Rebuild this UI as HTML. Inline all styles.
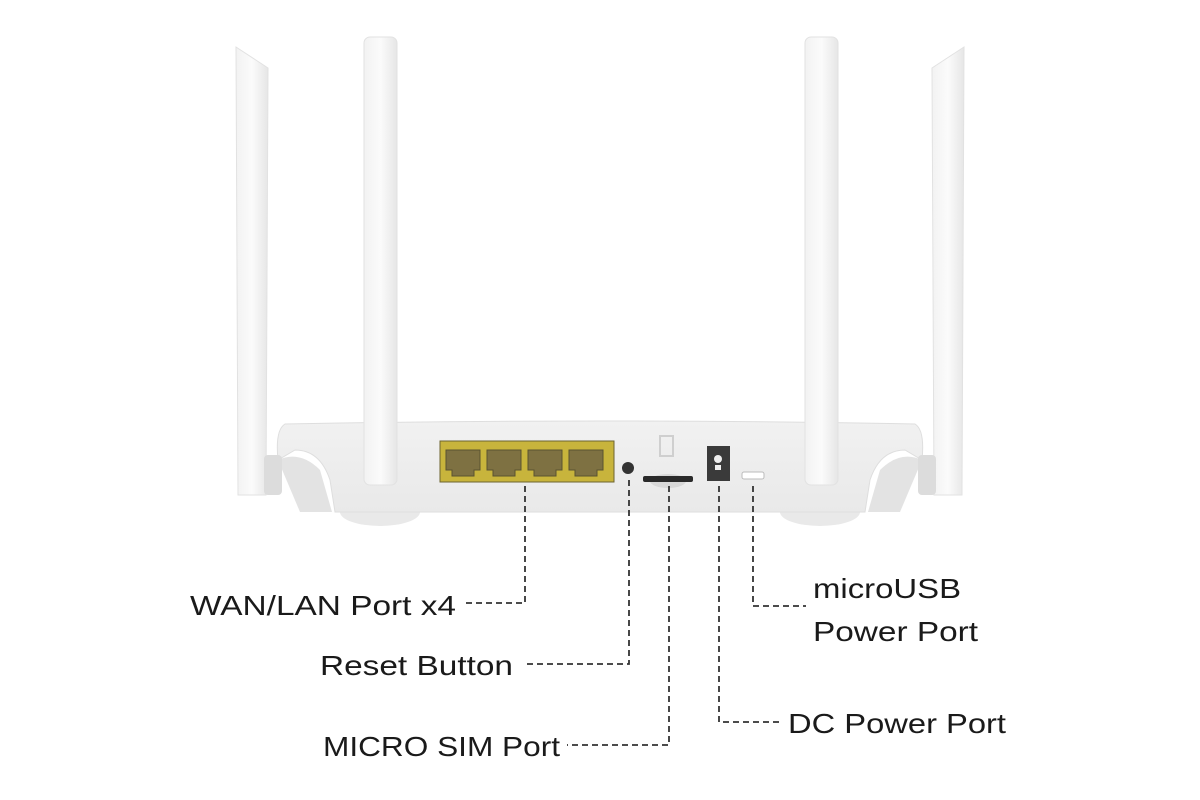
<!DOCTYPE html>
<html><head><meta charset="utf-8"><style>
html,body{margin:0;padding:0;background:#fff;width:1200px;height:800px;overflow:hidden}
text{font-family:"Liberation Sans",sans-serif;fill:#1a1a1a}
</style></head><body>
<svg width="1200" height="800" viewBox="0 0 1200 800" xmlns="http://www.w3.org/2000/svg">
<defs>
<linearGradient id="ant" x1="0" x2="1"><stop offset="0" stop-color="#f2f2f2"/><stop offset="0.5" stop-color="#fbfbfb"/><stop offset="1" stop-color="#e6e6e6"/></linearGradient>
<linearGradient id="body" x1="0" y1="0" x2="0" y2="1"><stop offset="0" stop-color="#f1f1f1"/><stop offset="1" stop-color="#e9e9e9"/></linearGradient>
</defs>
<path d="M236 47 L268 68 L266 495 L238 495 Z" fill="url(#ant)" stroke="#e2e2e2"/>
<path d="M964 47 L932 68 L934 495 L962 495 Z" fill="url(#ant)" stroke="#e2e2e2"/>
<ellipse cx="380" cy="512" rx="40" ry="14" fill="#e9e9e9"/>
<ellipse cx="820" cy="512" rx="40" ry="14" fill="#e9e9e9"/>
<path d="M285 424 Q600 418 915 424 Q925 430 922 460 L905 450 Q880 450 870 480 L865 512 L335 512 L330 480 Q320 450 295 450 L278 460 Q275 430 285 424 Z" fill="url(#body)" stroke="#dedede"/>
<path d="M278 460 Q300 450 320 470 L332 512 L300 512 Z" fill="#e3e3e3"/>
<path d="M922 460 Q900 450 880 470 L868 512 L900 512 Z" fill="#e3e3e3"/>
<rect x="264" y="455" width="18" height="40" rx="4" fill="#dcdcdc"/>
<rect x="918" y="455" width="18" height="40" rx="4" fill="#dcdcdc"/>
<rect x="364" y="37" width="33" height="448" rx="6" fill="url(#ant)" stroke="#e2e2e2"/>
<rect x="805" y="37" width="33" height="448" rx="6" fill="url(#ant)" stroke="#e2e2e2"/>
<rect x="440" y="441" width="174" height="41" fill="#c8b43c" stroke="#6d6430"/>
<g fill="#7e7142" stroke="#5a5230" stroke-width="1">
<path d="M446 450 h34 v20 h-6 v6 h-22 v-6 h-6 Z"/>
<path d="M487 450 h34 v20 h-6 v6 h-22 v-6 h-6 Z"/>
<path d="M528 450 h34 v20 h-6 v6 h-22 v-6 h-6 Z"/>
<path d="M569 450 h34 v20 h-6 v6 h-22 v-6 h-6 Z"/>
</g>
<circle cx="628" cy="468" r="6" fill="#333"/>
<rect x="660" y="436" width="13" height="20" fill="none" stroke="#cfcfcf" stroke-width="2"/>
<ellipse cx="668" cy="481" rx="18" ry="7" fill="#d8d8d8"/>
<rect x="643" y="476" width="50" height="6" rx="2" fill="#2a2a2a"/>
<rect x="707" y="446" width="23" height="35" fill="#3a3a3a"/>
<circle cx="718" cy="459" r="4" fill="#eee"/>
<rect x="715" y="465" width="6" height="5" fill="#eee"/>
<rect x="742" y="472" width="22" height="7" rx="2" fill="#fff" stroke="#bbb"/>
<g fill="none" stroke="#333" stroke-width="1.8" stroke-dasharray="6,4">
<path d="M525 486 V603 H465"/>
<path d="M629 480 V664 H525"/>
<path d="M669 486 V745 H567"/>
<path d="M719 486 V722 H781"/>
<path d="M753 486 V606 H806"/>
</g>
<g font-size="28">
<text x="190" y="615" textLength="266" lengthAdjust="spacingAndGlyphs">WAN/LAN Port x4</text>
<text x="320" y="675" textLength="193" lengthAdjust="spacingAndGlyphs">Reset Button</text>
<text x="323" y="756" textLength="237" lengthAdjust="spacingAndGlyphs">MICRO SIM Port</text>
<text x="788" y="733" textLength="218" lengthAdjust="spacingAndGlyphs">DC Power Port</text>
<text x="813" y="598" textLength="148" lengthAdjust="spacingAndGlyphs">microUSB</text>
<text x="813" y="641" textLength="165" lengthAdjust="spacingAndGlyphs">Power Port</text>
</g>
</svg>
</body></html>
